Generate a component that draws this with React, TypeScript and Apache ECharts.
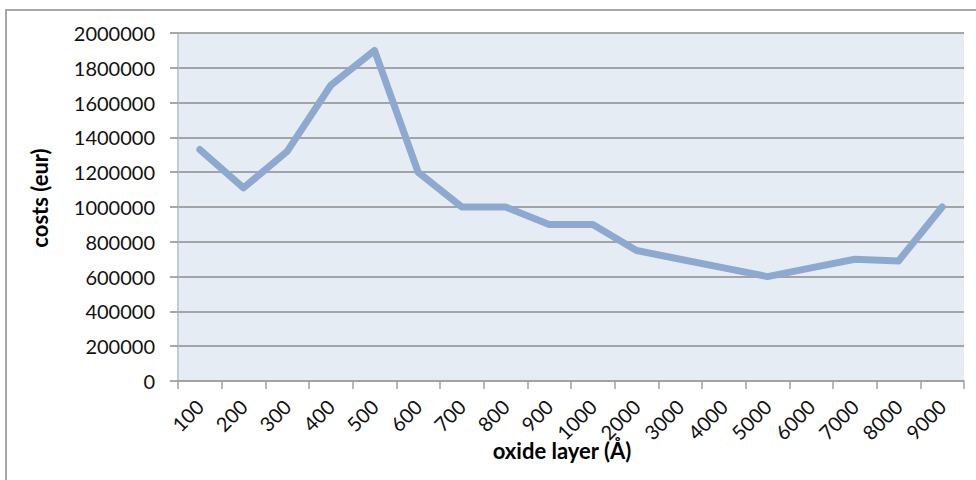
import React, { useEffect, useRef } from "react";
import * as echarts from "echarts";

const categories = ["100", "200", "300", "400", "500", "600", "700", "800", "900", "1000", "2000", "3000", "4000", "5000", "6000", "7000", "8000", "9000"];
const costs = [1330000, 1110000, 1320000, 1700000, 1900000, 1200000, 1000000, 1000000, 900000, 900000, 750000, 700000, 650000, 600000, 650000, 700000, 690000, 1000000];
const yTitle = "costs (eur)";
const xTitle = "oxide layer (Å)";

export default function App() {
  const ref = useRef<HTMLDivElement>(null);
  useEffect(() => {
    if (!ref.current) return;
    const chart = echarts.init(ref.current, null, { renderer: "svg" });
    const font = "Lato, 'Open Sans', sans-serif";
    chart.setOption({
      animation: false,
      backgroundColor: "#ffffff",
      graphic: [
        {
          type: "rect",
          shape: { x: 6, y: 10, width: 1000, height: 500 },
          style: { fill: "none", stroke: "#a6a6a6", lineWidth: 2 },
          silent: true,
        },
      ],
      grid: { left: 178, top: 33, width: 786, height: 348, show: true, backgroundColor: "#e6ecf4", borderWidth: 0 },
      xAxis: {
        type: "category",
        data: categories,
        boundaryGap: true,
        name: xTitle,
        nameLocation: "middle",
        nameGap: 58,
        nameMoveOverlap: false,
        nameTextStyle: { fontFamily: font, fontSize: 22, fontWeight: "bold", color: "#000", padding: [0, 18, 0, 0] },
        axisLine: { show: true, lineStyle: { color: "#a0a0a0", width: 1.5 } },
        axisTick: { show: true, alignWithLabel: false, length: 8, lineStyle: { color: "#a0a0a0", width: 1.5 } },
        axisLabel: { rotate: 45, fontFamily: font, fontSize: 20, color: "#111", margin: 22, interval: 0 },
        splitLine: { show: false },
      },
      yAxis: {
        type: "value",
        min: 0,
        max: 2000000,
        interval: 200000,
        name: yTitle,
        nameLocation: "middle",
        nameGap: 128,
        nameRotate: 90,
        nameTextStyle: { fontFamily: font, fontSize: 22, fontWeight: "bold", color: "#000", padding: [0, 0, 0, 18] },
        axisLine: { show: true, lineStyle: { color: "#b4bccb", width: 1.5 } },
        axisTick: { show: true, length: 8, lineStyle: { color: "#8c8c8c", width: 1.5 } },
        axisLabel: { fontFamily: font, fontSize: 20, color: "#111", margin: 23, formatter: (v: number) => String(v) },
        splitLine: { show: true, lineStyle: { color: "#8c8c8c", width: 1.5 } },
      },
      series: [
        {
          type: "line",
          data: costs,
          symbol: "none",
          lineStyle: { color: "#8da9d0", width: 7, cap: "round", join: "round" },
        },
      ],
    });
    return () => chart.dispose();
  }, []);
  return <div ref={ref} style={{ position: "fixed", left: 0, top: 0, width: 976, height: 480 }} />;
}
